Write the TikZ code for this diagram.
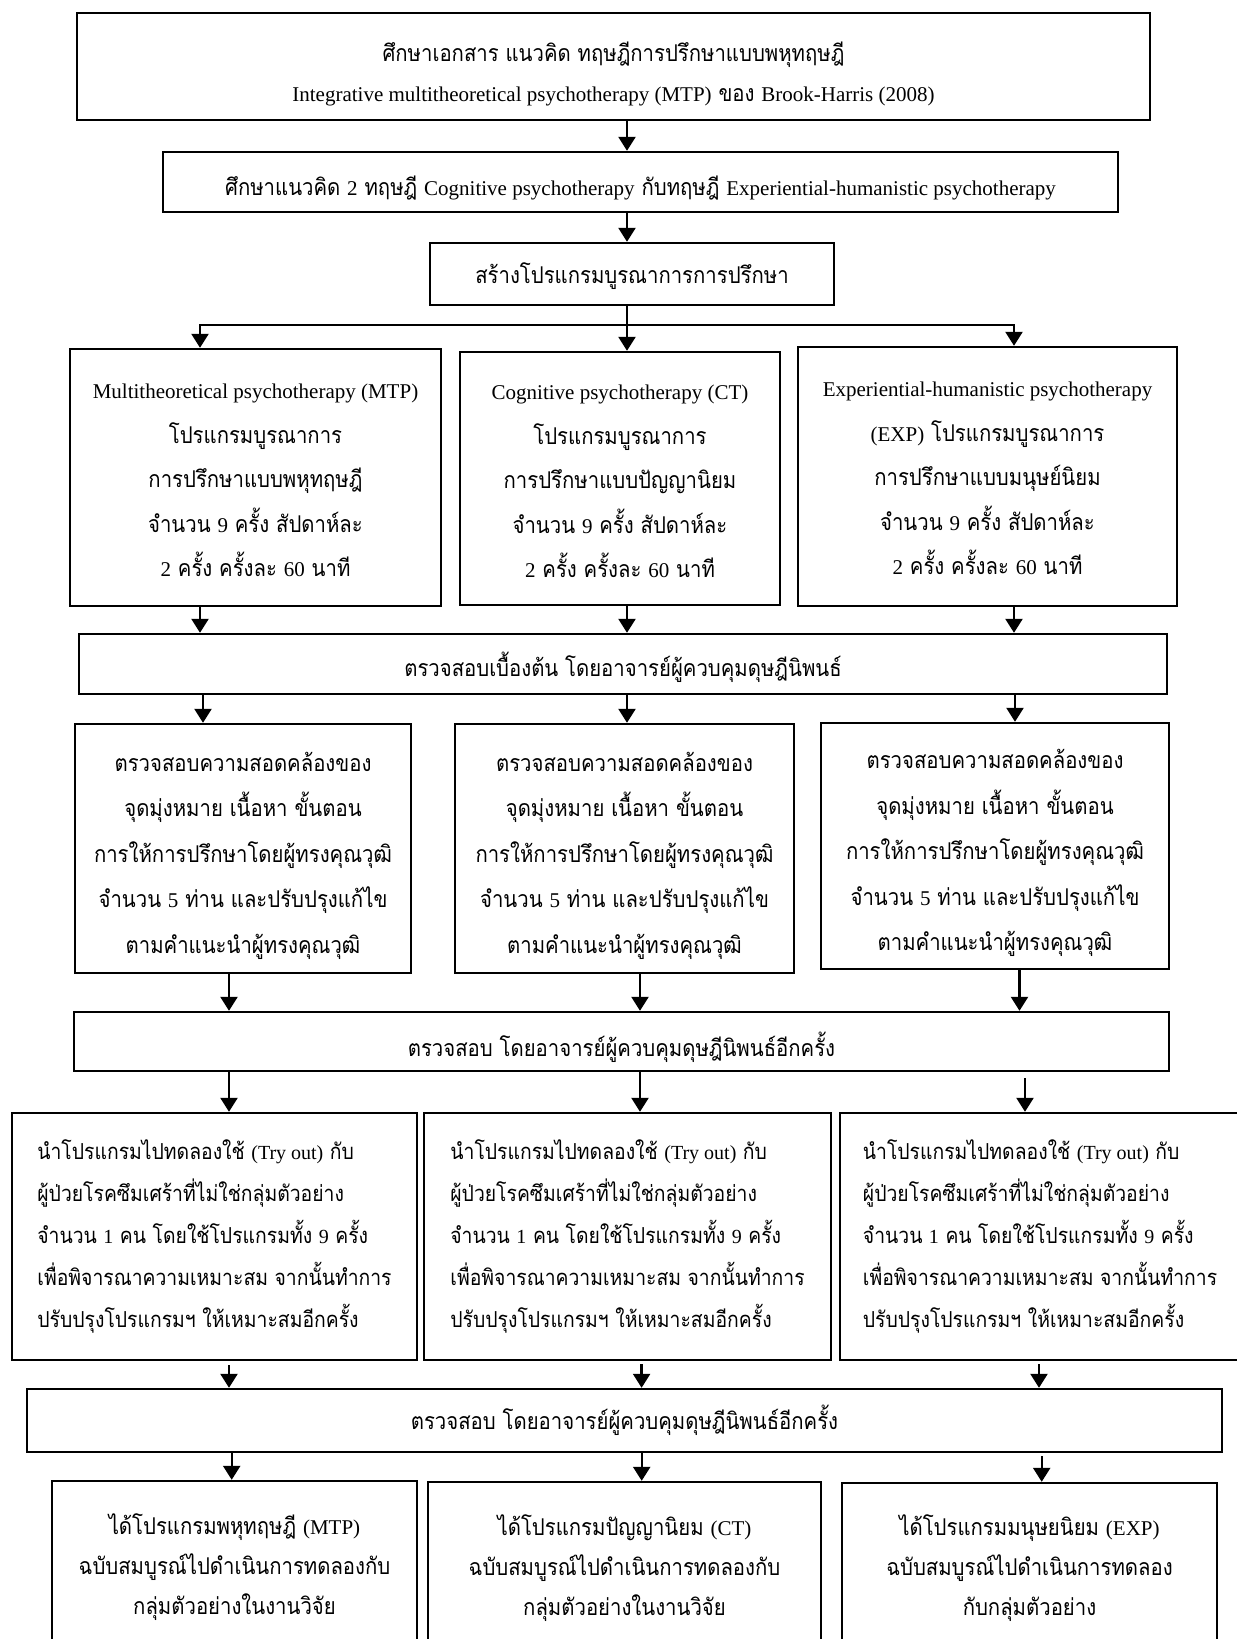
\documentclass[tikz,border=0pt]{standalone}
\usepackage{fontspec}
\setmainfont[Script=Thai,Scale=1.1,FakeStretch=0.88]{Loma}
\newfontfamily\latinserif{Liberation Serif}
\newcommand{\en}[1]{{\latinserif #1}}
\usetikzlibrary{arrows.meta}

\tikzset{
  frame/.style={draw=black, line width=2.4pt, inner sep=0pt},
  caption/.style={inner sep=0pt, align=center,
    font=\fontsize{21}{44.5}\selectfont, yshift=-3pt},
  tight/.style={font=\fontsize{21}{40}\selectfont},
  review/.style={font=\fontsize{21}{45.5}\selectfont},
  trial/.style={align=left, font=\fontsize{20}{42}\selectfont},
  arr/.style={draw=black, line width=2.4pt, -{Triangle[width=17pt,length=14pt]}},
  link/.style={draw=black, line width=2.4pt},
}
% a box given by its corners (pixel units, y pointing down) and its text
\newcommand{\flowbox}[7][]{%
  \node[frame,minimum width={(#5-#3)*1pt},minimum height={(#6-#4)*1pt}]
    (#2) at ({(#3+#5)/2},{(#4+#6)/2}) {};
  \node[caption,#1] (#2-text) at (#2.center) {#7};}

\begin{document}
\begin{tikzpicture}[x=1pt,y=-1pt]
\fill[white] (0,0) rectangle (1237,1639);
\useasboundingbox (0,0) rectangle (1237,1639);
\clip (0,0) rectangle (1237,1639);

% ---- boxes ----
\flowbox[tight,yshift=-4pt]{top}{77}{13}{1150}{120}{ศึกษาเอกสาร แนวคิด ทฤษฎีการปรึกษาแบบพหุทฤษฎี\\\en{Integrative multitheoretical psychotherapy (MTP)} ของ \en{Brook-Harris (2008)}}
\flowbox[yshift=-3pt]{study}{163}{152}{1118}{212}{ศึกษาแนวคิด \en{2} ทฤษฎี \en{Cognitive psychotherapy} กับทฤษฎี \en{Experiential-humanistic psychotherapy}}
\flowbox[yshift=1pt]{build}{430}{243}{834}{305}{สร้างโปรแกรมบูรณาการการปรึกษา}

\flowbox{mtp}{70}{349}{441}{606}{\en{Multitheoretical psychotherapy (MTP)}\\โปรแกรมบูรณาการ\\การปรึกษาแบบพหุทฤษฎี\\จำนวน \en{9} ครั้ง สัปดาห์ละ\\\en{2} ครั้ง ครั้งละ \en{60} นาที}
\flowbox{ct}{460}{352}{780}{605}{\en{Cognitive psychotherapy (CT)}\\โปรแกรมบูรณาการ\\การปรึกษาแบบปัญญานิยม\\จำนวน \en{9} ครั้ง สัปดาห์ละ\\\en{2} ครั้ง ครั้งละ \en{60} นาที}
\flowbox[yshift=1pt]{exp}{798}{347}{1177}{606}{\en{Experiential-humanistic psychotherapy}\\\en{(EXP)} โปรแกรมบูรณาการ\\การปรึกษาแบบมนุษย์นิยม\\จำนวน \en{9} ครั้ง สัปดาห์ละ\\\en{2} ครั้ง ครั้งละ \en{60} นาที}

\flowbox{chkA}{79}{634}{1167}{694}{ตรวจสอบเบื้องต้น โดยอาจารย์ผู้ควบคุมดุษฎีนิพนธ์}

\flowbox[review,yshift=-4pt]{revA}{75}{724}{411}{973}{ตรวจสอบความสอดคล้องของ\\จุดมุ่งหมาย เนื้อหา ขั้นตอน\\การให้การปรึกษาโดยผู้ทรงคุณวุฒิ\\จำนวน \en{5} ท่าน และปรับปรุงแก้ไข\\ตามคำแนะนำผู้ทรงคุณวุฒิ}
\flowbox[review,yshift=-4pt]{revB}{455}{724}{794}{973}{ตรวจสอบความสอดคล้องของ\\จุดมุ่งหมาย เนื้อหา ขั้นตอน\\การให้การปรึกษาโดยผู้ทรงคุณวุฒิ\\จำนวน \en{5} ท่าน และปรับปรุงแก้ไข\\ตามคำแนะนำผู้ทรงคุณวุฒิ}
\flowbox[review,yshift=-4pt]{revC}{821}{723}{1169}{969}{ตรวจสอบความสอดคล้องของ\\จุดมุ่งหมาย เนื้อหา ขั้นตอน\\การให้การปรึกษาโดยผู้ทรงคุณวุฒิ\\จำนวน \en{5} ท่าน และปรับปรุงแก้ไข\\ตามคำแนะนำผู้ทรงคุณวุฒิ}

\flowbox[yshift=-3pt]{chkB}{74}{1012}{1169}{1071}{ตรวจสอบ โดยอาจารย์ผู้ควบคุมดุษฎีนิพนธ์อีกครั้ง}

\flowbox[trial,yshift=3pt]{tryA}{12}{1113}{417}{1360}{นำโปรแกรมไปทดลองใช้ \en{(Try out)} กับ\\ผู้ป่วยโรคซึมเศร้าที่ไม่ใช่กลุ่มตัวอย่าง\\จำนวน \en{1} คน โดยใช้โปรแกรมทั้ง \en{9} ครั้ง\\เพื่อพิจารณาความเหมาะสม จากนั้นทำการ\\ปรับปรุงโปรแกรมฯ ให้เหมาะสมอีกครั้ง}
\flowbox[trial,yshift=3pt]{tryB}{424}{1113}{831}{1360}{นำโปรแกรมไปทดลองใช้ \en{(Try out)} กับ\\ผู้ป่วยโรคซึมเศร้าที่ไม่ใช่กลุ่มตัวอย่าง\\จำนวน \en{1} คน โดยใช้โปรแกรมทั้ง \en{9} ครั้ง\\เพื่อพิจารณาความเหมาะสม จากนั้นทำการ\\ปรับปรุงโปรแกรมฯ ให้เหมาะสมอีกครั้ง}
\flowbox[trial,yshift=3pt]{tryC}{840}{1113}{1240}{1360}{นำโปรแกรมไปทดลองใช้ \en{(Try out)} กับ\\ผู้ป่วยโรคซึมเศร้าที่ไม่ใช่กลุ่มตัวอย่าง\\จำนวน \en{1} คน โดยใช้โปรแกรมทั้ง \en{9} ครั้ง\\เพื่อพิจารณาความเหมาะสม จากนั้นทำการ\\ปรับปรุงโปรแกรมฯ ให้เหมาะสมอีกครั้ง}

\flowbox[yshift=3pt]{chkC}{27}{1389}{1222}{1452}{ตรวจสอบ โดยอาจารย์ผู้ควบคุมดุษฎีนิพนธ์อีกครั้ง}

\flowbox[tight,yshift=2.5pt]{endA}{52}{1481}{417}{1653}{ได้โปรแกรมพหุทฤษฎี \en{(MTP)}\\ฉบับสมบูรณ์ไปดำเนินการทดลองกับ\\กลุ่มตัวอย่างในงานวิจัย}
\flowbox[tight,yshift=2.5pt]{endB}{428}{1482}{821}{1653}{ได้โปรแกรมปัญญานิยม \en{(CT)}\\ฉบับสมบูรณ์ไปดำเนินการทดลองกับ\\กลุ่มตัวอย่างในงานวิจัย}
\flowbox[tight,yshift=2.5pt]{endC}{842}{1483}{1217}{1653}{ได้โปรแกรมมนุษยนิยม \en{(EXP)}\\ฉบับสมบูรณ์ไปดำเนินการทดลอง\\กับกลุ่มตัวอย่าง}

% ---- connector columns ----
\coordinate (trunk) at (627,0);
\coordinate (fork) at (627,325);
\coordinate (pA) at (200,0);   \coordinate (pC) at (1014,0);
\coordinate (qA) at (203,0);   \coordinate (qC) at (1015,0);
\coordinate (rA) at (229,0);   \coordinate (rB) at (640,0);   \coordinate (rC) at (1019.5,0);
\coordinate (sC) at (1025,0);
\coordinate (uB) at (641.6,0); \coordinate (uC) at (1039,0);
\coordinate (vA) at (231.7,0); \coordinate (vB) at (641.7,0); \coordinate (vC) at (1041.7,0);

% ---- connectors ----
\draw[arr] (top.south -| trunk) -- (study.north -| trunk);
\draw[arr] (study.south -| trunk) -- (build.north -| trunk);
\draw[link] (build.south -| trunk) -- (fork);
\draw[arr] (fork) -- (ct.north -| trunk);
\draw[arr] (fork) -| (mtp.north -| pA);
\draw[arr] (fork) -| (exp.north -| pC);

\draw[arr] (mtp.south -| pA) -- (chkA.north -| pA);
\draw[arr] (ct.south -| trunk) -- (chkA.north -| trunk);
\draw[arr] (exp.south -| pC) -- (chkA.north -| pC);

\draw[arr] (chkA.south -| qA) -- (revA.north -| qA);
\draw[arr] (chkA.south -| trunk) -- (revB.north -| trunk);
\draw[arr] (chkA.south -| qC) -- (revC.north -| qC);

\draw[arr] (revA.south -| rA) -- (chkB.north -| rA);
\draw[arr] (revB.south -| rB) -- (chkB.north -| rB);
\draw[arr] (revC.south -| rC) -- (chkB.north -| rC);

\draw[arr] (chkB.south -| rA) -- (tryA.north -| rA);
\draw[arr] (chkB.south -| rB) -- (tryB.north -| rB);
\draw[arr, shorten <=6pt] (chkB.south -| sC) -- (tryC.north -| sC);

\draw[arr, shorten <=4pt] (tryA.south -| rA) -- (chkC.north -| rA);
\draw[arr, shorten <=3pt] (tryB.south -| uB) -- (chkC.north -| uB);
\draw[arr, shorten <=3pt] (tryC.south -| uC) -- (chkC.north -| uC);

\draw[arr] (chkC.south -| vA) -- (endA.north -| vA);
\draw[arr] (chkC.south -| vB) -- (endB.north -| vB);
\draw[arr, shorten <=3pt] (chkC.south -| vC) -- (endC.north -| vC);
\end{tikzpicture}
\end{document}
